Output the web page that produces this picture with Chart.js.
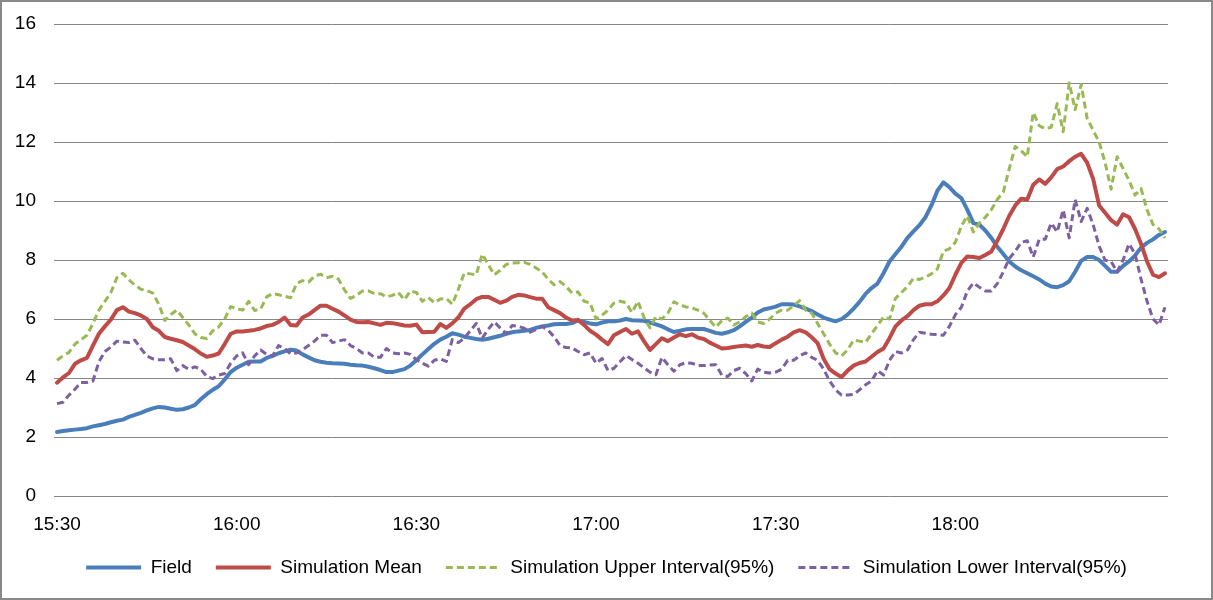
<!DOCTYPE html>
<html><head><meta charset="utf-8">
<script src="https://cdn.jsdelivr.net/npm/chart.js@4.4.0/dist/chart.umd.min.js"></script>
<style>
html,body{margin:0;padding:0;background:#fff;}
#wrap{position:relative;width:1213px;height:600px;}
#frame{position:absolute;left:0;top:0;width:1213px;height:600px;box-sizing:border-box;border:2px solid #898989;pointer-events:none;}
canvas{display:block;}
</style></head><body>
<div id="wrap"><canvas id="c" width="1213" height="600"></canvas><div id="frame"></div></div>
<script>
// One value per minute, 15:30 .. 18:35
const field = [
2.17,2.2,2.23,2.25,2.27,2.3,2.36,2.4,2.44,2.5,2.55,2.59,2.68,2.75,2.82,2.9,2.97,3.02,3.0,2.96,2.92,2.94,3.0,3.08,3.28,3.45,3.6,3.72,3.95,
4.2,4.35,4.45,4.55,4.56,4.56,4.68,4.75,4.84,4.9,4.96,4.93,4.8,4.7,4.6,4.55,4.52,4.5,4.49,4.48,4.45,4.43,4.42,4.38,4.33,4.27,4.2,4.2,4.25,4.3,
4.42,4.6,4.8,4.98,5.16,5.3,5.4,5.52,5.47,5.4,5.36,5.32,5.3,5.33,5.38,5.43,5.5,5.55,5.58,5.6,5.63,5.7,5.75,5.78,5.82,5.83,5.83,5.86,5.95,5.9,
5.85,5.82,5.88,5.92,5.92,5.95,6.0,5.96,5.95,5.94,5.88,5.82,5.75,5.65,5.56,5.6,5.65,5.66,5.66,5.66,5.6,5.53,5.5,5.55,5.62,5.75,5.9,6.05,6.22,6.32,
6.37,6.42,6.5,6.5,6.49,6.43,6.35,6.27,6.15,6.05,5.98,5.92,6.0,6.15,6.35,6.58,6.85,7.05,7.2,7.55,7.95,8.2,8.45,8.75,8.97,9.18,9.45,9.85,10.35,10.63,
10.47,10.25,10.1,9.7,9.25,9.2,9.0,8.75,8.45,8.2,7.95,7.78,7.65,7.55,7.45,7.34,7.2,7.1,7.08,7.15,7.28,7.6,7.97,8.1,8.1,8.0,7.8,7.6,7.6,7.8,7.95,8.15,8.42,8.58,8.7,8.85,8.95
];
const simMean = [
3.84,4.02,4.17,4.48,4.6,4.68,5.1,5.5,5.75,5.98,6.3,6.4,6.25,6.2,6.12,6.0,5.72,5.6,5.39,5.33,5.28,5.22,5.1,4.98,4.83,4.72,4.76,4.83,5.15,
5.5,5.58,5.58,5.6,5.63,5.68,5.76,5.8,5.9,6.05,5.8,5.78,6.05,6.15,6.3,6.45,6.45,6.35,6.25,6.12,5.98,5.9,5.89,5.9,5.85,5.8,5.87,5.86,5.82,5.78,
5.77,5.81,5.55,5.56,5.57,5.83,5.7,5.85,6.05,6.35,6.5,6.67,6.75,6.75,6.65,6.55,6.62,6.75,6.82,6.8,6.74,6.69,6.69,6.4,6.3,6.2,6.05,5.95,5.97,5.8,
5.6,5.47,5.3,5.15,5.45,5.56,5.66,5.5,5.58,5.25,4.95,5.15,5.35,5.25,5.37,5.48,5.42,5.48,5.37,5.32,5.2,5.1,5.0,5.02,5.05,5.08,5.1,5.06,5.12,5.07,
5.05,5.18,5.3,5.4,5.55,5.62,5.55,5.38,5.18,4.65,4.3,4.15,4.03,4.25,4.42,4.51,4.56,4.72,4.88,5.0,5.35,5.75,5.95,6.1,6.3,6.45,6.5,6.5,6.6,6.8,
7.05,7.5,7.9,8.12,8.1,8.07,8.17,8.29,8.65,9.05,9.5,9.85,10.08,10.05,10.55,10.73,10.58,10.8,11.08,11.17,11.35,11.5,11.6,11.3,10.75,9.85,9.6,9.35,9.2,9.55,9.45,9.05,8.55,7.95,7.5,7.42,7.55
];
const simUpper = [
4.6,4.75,4.87,5.15,5.3,5.45,5.85,6.3,6.6,6.9,7.4,7.55,7.33,7.15,7.01,6.96,6.88,6.5,5.95,6.15,6.3,6.05,5.8,5.5,5.37,5.34,5.6,5.73,6.0,
6.42,6.35,6.3,6.6,6.29,6.34,6.75,6.86,6.82,6.77,6.72,7.2,7.3,7.25,7.45,7.52,7.4,7.45,7.35,6.99,6.7,6.8,6.95,6.95,6.86,6.86,6.75,6.8,6.9,6.65,
6.95,6.9,6.6,6.73,6.55,6.68,6.7,6.5,7.0,7.56,7.53,7.5,8.2,7.85,7.5,7.65,7.85,7.9,7.91,7.92,7.85,7.73,7.6,7.35,7.16,7.27,7.1,6.88,6.92,6.6,
6.55,6.0,6.13,6.3,6.54,6.6,6.56,6.22,6.6,6.05,5.7,6.08,6.0,6.2,6.58,6.48,6.41,6.38,6.3,6.2,5.95,5.72,5.95,6.03,5.8,5.9,6.08,6.2,5.9,5.85,
6.0,6.2,6.3,6.3,6.45,6.62,6.3,6.2,5.85,5.5,5.15,4.85,4.75,4.95,5.28,5.25,5.21,5.5,5.78,6.07,6.0,6.7,6.9,7.1,7.38,7.34,7.42,7.53,7.7,8.3,
8.38,8.6,9.15,9.5,8.95,9.25,9.45,9.7,10.05,10.3,11.1,11.85,11.7,11.5,13.0,12.55,12.45,12.5,13.3,12.35,14.0,13.1,13.95,12.8,12.4,12.0,11.3,10.4,11.5,11.1,10.7,10.2,10.42,9.7,9.2,9.05,8.75
];
const simLower = [
3.13,3.18,3.42,3.62,3.85,3.85,3.9,4.55,4.9,5.05,5.25,5.22,5.2,5.28,5.0,4.75,4.65,4.62,4.62,4.65,4.25,4.42,4.3,4.38,4.3,4.05,3.98,4.1,4.15,
4.5,4.75,4.85,4.45,4.75,4.95,4.8,4.75,5.1,5.0,4.82,4.85,4.96,5.1,5.25,5.45,5.45,5.2,5.25,5.3,5.1,5.0,4.85,4.85,4.7,4.7,5.0,4.85,4.82,4.85,
4.8,4.62,4.5,4.4,4.6,4.65,4.56,5.3,5.2,5.35,5.6,5.85,5.35,5.65,5.9,5.7,5.5,5.78,5.75,5.69,5.55,5.65,5.75,5.62,5.4,5.1,5.03,5.02,4.9,4.79,
4.85,4.5,4.66,4.25,4.33,4.55,4.76,4.63,4.5,4.35,4.2,4.11,4.7,4.45,4.23,4.45,4.52,4.5,4.42,4.42,4.44,4.45,4.1,4.05,4.25,4.33,4.15,3.9,4.3,4.2,
4.17,4.2,4.3,4.6,4.6,4.75,4.85,4.7,4.6,4.3,3.9,3.6,3.42,3.42,3.44,3.6,3.77,3.9,4.25,4.1,4.6,4.9,4.85,4.95,5.3,5.55,5.52,5.48,5.47,5.45,
5.75,6.15,6.4,6.95,7.22,7.08,6.95,6.95,7.2,7.6,8.05,8.3,8.6,8.65,8.1,8.7,8.7,9.25,8.95,9.7,8.75,10.05,9.3,9.75,9.2,8.47,7.99,7.95,7.6,8.0,8.55,8.2,7.35,6.6,6.0,5.8,6.4
];
const seriesNames = ["Field", "Simulation Mean", "Simulation Upper Interval(95%)", "Simulation Lower Interval(95%)"];
const tickLabels = ["15:30", "16:00", "16:30", "17:00", "17:30", "18:00"];
const startHour = 15, startMin = 30;

// minute-by-minute category labels
const categories = [];
for (let i = 0; i < field.length; i++) {
  const m = startHour * 60 + startMin + i;
  categories.push(Math.floor(m / 60) + ":" + String(m % 60).padStart(2, "0"));
}

Chart.defaults.font.family = "'Liberation Sans', Arial, sans-serif";
Chart.defaults.color = "#000";
const baseLabels = Chart.defaults.plugins.legend.labels.generateLabels;

new Chart(document.getElementById("c"), {
  type: "line",
  data: {
    labels: categories,
    datasets: [
      { label: seriesNames[0], data: field, borderColor: "#4A7EBB", backgroundColor: "#4A7EBB", borderWidth: 4, pointRadius: 0, tension: 0, borderJoinStyle: "round", borderCapStyle: "round", order: 4 },
      { label: seriesNames[1], data: simMean, borderColor: "#BE4B48", backgroundColor: "#BE4B48", borderWidth: 4, pointRadius: 0, tension: 0, borderJoinStyle: "round", borderCapStyle: "round", order: 3 },
      { label: seriesNames[2], data: simUpper, borderColor: "#98B954", backgroundColor: "#98B954", borderWidth: 3, borderDash: [7, 4], pointRadius: 0, tension: 0, borderJoinStyle: "round", order: 2 },
      { label: seriesNames[3], data: simLower, borderColor: "#7D60A0", backgroundColor: "#7D60A0", borderWidth: 3, borderDash: [7, 4], pointRadius: 0, tension: 0, borderJoinStyle: "round", order: 1 }
    ]
  },
  options: {
    responsive: false,
    animation: false,
    devicePixelRatio: 1,
    layout: { padding: { left: 0, right: 0, top: 24, bottom: 13 } },
    plugins: {
      tooltip: { enabled: false },
      legend: {
        position: "bottom",
        labels: {
          usePointStyle: true,
          pointStyle: "line",
          pointStyleWidth: 55,
          padding: 24,
          color: "#000",
          font: { size: 19 },
          sort: (a, b) => a.datasetIndex - b.datasetIndex,
          generateLabels: (chart) => {
            const items = baseLabels(chart);
            items.forEach((it) => {
              const ds = chart.data.datasets[it.datasetIndex];
              it.lineDash = ds.borderDash || [];
              it.lineWidth = ds.borderWidth;
              it.strokeStyle = ds.borderColor;
              it.lineCap = "butt";
            });
            return items;
          }
        }
      }
    },
    scales: {
      x: {
        type: "category",
        offset: true,
        grid: { display: false },
        border: { display: false },
        ticks: {
          autoSkip: false,
          maxRotation: 0,
          minRotation: 0,
          padding: 9,
          color: "#000",
          font: { size: 19 },
          callback: function (v) {
            const l = this.getLabelForValue(v);
            return tickLabels.includes(l) ? l : null;
          }
        },
        afterFit: (s) => { s.height = 38; }
      },
      y: {
        min: 0,
        max: 16,
        ticks: { stepSize: 2, padding: 18, color: "#000", font: { size: 19 } },
        grid: { color: "#868686", lineWidth: 1, drawTicks: false },
        border: { display: false },
        afterFit: (s) => { s.width = 54; s.paddingTop = 0; s.paddingBottom = 0; }
      },
      yRight: {
        position: "right",
        min: 0,
        max: 16,
        ticks: { display: false },
        grid: { display: false, drawTicks: false },
        border: { display: false },
        afterFit: (s) => { s.width = 45; s.paddingTop = 0; s.paddingBottom = 0; }
      }
    }
  }
});
</script>
</body></html>
